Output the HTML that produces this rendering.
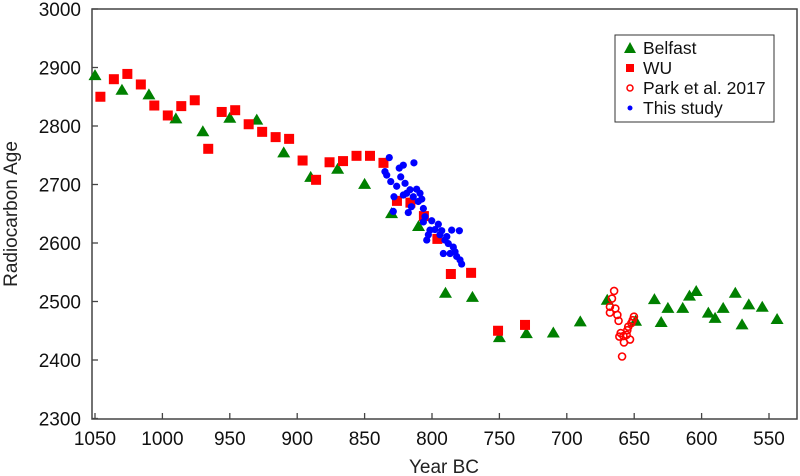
<!DOCTYPE html>
<html><head><meta charset="utf-8"><style>
html,body{margin:0;padding:0;background:#fff;}
svg{display:block;font-family:"Liberation Sans",Arial,sans-serif;}
</style></head><body>
<svg id="chart" width="800" height="476" viewBox="0 0 800 476">
<g id="axes"></g>
<g id="marks"></g>
<g id="legend">
<rect x="615" y="35" width="159" height="87" fill="#fff" stroke="#333" stroke-width="1"/>
<polygon points="630,42 636,53 624,53" fill="#008000"/>
<text x="643" y="54" font-size="17.5" fill="#111">Belfast</text>
<rect x="626" y="64" width="8" height="8" fill="#ff0000"/>
<text x="643" y="74" font-size="17.5" fill="#111">WU</text>
<circle cx="630" cy="88" r="3" fill="none" stroke="#ff0000" stroke-width="1.5"/>
<text x="643" y="94" font-size="17.5" fill="#111">Park et al. 2017</text>
<circle cx="630" cy="108" r="2.5" fill="#0000ff"/>
<text x="643" y="114" font-size="17.5" fill="#111">This study</text>
</g>
<text x="444" y="473" font-size="19" text-anchor="middle" fill="#222">Year BC</text>
<text transform="translate(17,214) rotate(-90)" font-size="19" text-anchor="middle" fill="#222">Radiocarbon Age</text>
</svg>
<script>
const xTicks=[1050,1000,950,900,850,800,750,700,650,600,550];
const yTicks=[2300,2400,2500,2600,2700,2800,2900,3000];
const belfastYear=[1050,1030,1010,990,970,950,930,910,890,870,850,830,810,790,770,750,730,710,690,670,649,635,630,625,614,609,604,595,590,584,575,570,565,555,544];
const belfastAge=[2887,2862,2854,2813,2791,2814,2811,2755,2713,2727,2701,2651,2629,2515,2508,2439,2446,2447,2466,2503,2467,2504,2465,2489,2489,2510,2518,2481,2472,2489,2515,2461,2495,2491,2470];
const wuYear=[1046,1036,1026,1016,1006,996,986,976,966,956,946,936,926,916,906,896,886,876,866,856,846,836,826,816,806,796,786,771,751,731];
const wuAge=[2850,2880,2889,2871,2835,2818,2834,2844,2761,2824,2827,2803,2790,2781,2778,2741,2708,2738,2740,2749,2749,2737,2672,2669,2646,2607,2547,2549,2450,2460];
const parkYear=[664.9,666.5,668,664,668,662.5,661.6,650.2,651.1,652.1,654.4,655.1,660,661,658,655.6,653.1,657.6,659];
const parkAge=[2518,2505,2491,2488,2481,2477,2467,2474,2468,2463,2457,2451,2446,2440,2441,2443,2435,2430,2406];
const studyYear=[831.7,821.3,813.4,824.3,834.9,833.6,823.2,830.6,820,826.2,816.3,811.4,818.8,808.9,821.3,813.9,807.6,828.2,810.2,815.3,828.7,817.6,806.4,805.2,800.2,806.4,795.3,801.5,797.8,792.8,785.4,779.7,802.7,794.1,789,803.9,790.4,787.9,784.2,791.6,786.6,782.9,781.7,779.2,778];
const studyAge=[2746,2733,2737,2728,2722,2716,2713,2705,2702,2697,2691,2692,2685,2685,2682,2679,2675,2679,2671,2662,2654,2652,2659,2645,2638,2636,2632,2622,2623,2621,2622,2621,2614,2614,2611,2605,2605,2599,2593,2582,2582,2585,2577,2571,2564];

const NS='http://www.w3.org/2000/svg';
const L=92,R=797,T=9,B=419;
function xs(y){return 95+(1050-y)*1.348;}
function ys(v){return 9+(3000-v)*0.585;}
function mk(tag,at,parent){const e=document.createElementNS(NS,tag);for(const k in at)e.setAttribute(k,at[k]);parent.appendChild(e);return e;}
const axes=document.getElementById('axes'),marks=document.getElementById('marks');
const frame=mk('rect',{x:L,y:T,width:R-L,height:B-T,fill:'none',stroke:'#444','stroke-width':1.5},axes);


xTicks.forEach(t=>{
 const x=xs(t);
 const ln=mk('line',{x1:x,x2:x,y1:B,y2:B-6,stroke:'#444','stroke-width':1.3},axes);
 
 
 const tx=mk('text',{x:x,y:B+26,'font-size':19,'text-anchor':'middle',fill:'#111'},axes);
 tx.textContent=t;
 
 
});
yTicks.forEach(t=>{
 const y=ys(t);
 const ln=mk('line',{x1:L,x2:L+6,y1:y,y2:y,stroke:'#444','stroke-width':1.3},axes);
 
 
 const tx=mk('text',{x:L-11,y:y+7,'font-size':19,'text-anchor':'end',fill:'#111'},axes);
 tx.textContent=t;
 
 
});
belfastYear.forEach((yr,i)=>{
 const x=xs(yr),y=ys(belfastAge[i]);
 const p=mk('polygon',{points:`${x},${y-6} ${x+6.5},${y+5} ${x-6.5},${y+5}`,fill:'#008000'},marks);
 
 
});
wuYear.forEach((yr,i)=>{
 const x=xs(yr),y=ys(wuAge[i]);
 const p=mk('rect',{x:x-5,y:y-5,width:10,height:10,fill:'#ff0000'},marks);
 
 
});
parkYear.forEach((yr,i)=>{
 const p=mk('circle',{cx:xs(yr),cy:ys(parkAge[i]),r:3.5,fill:'none',stroke:'#ff0000','stroke-width':1.6},marks);
 
 
});
studyYear.forEach((yr,i)=>{
 const p=mk('circle',{cx:xs(yr),cy:ys(studyAge[i]),r:3.6,fill:'#0000ff'},marks);
 
 
});
</script>
</body></html>
